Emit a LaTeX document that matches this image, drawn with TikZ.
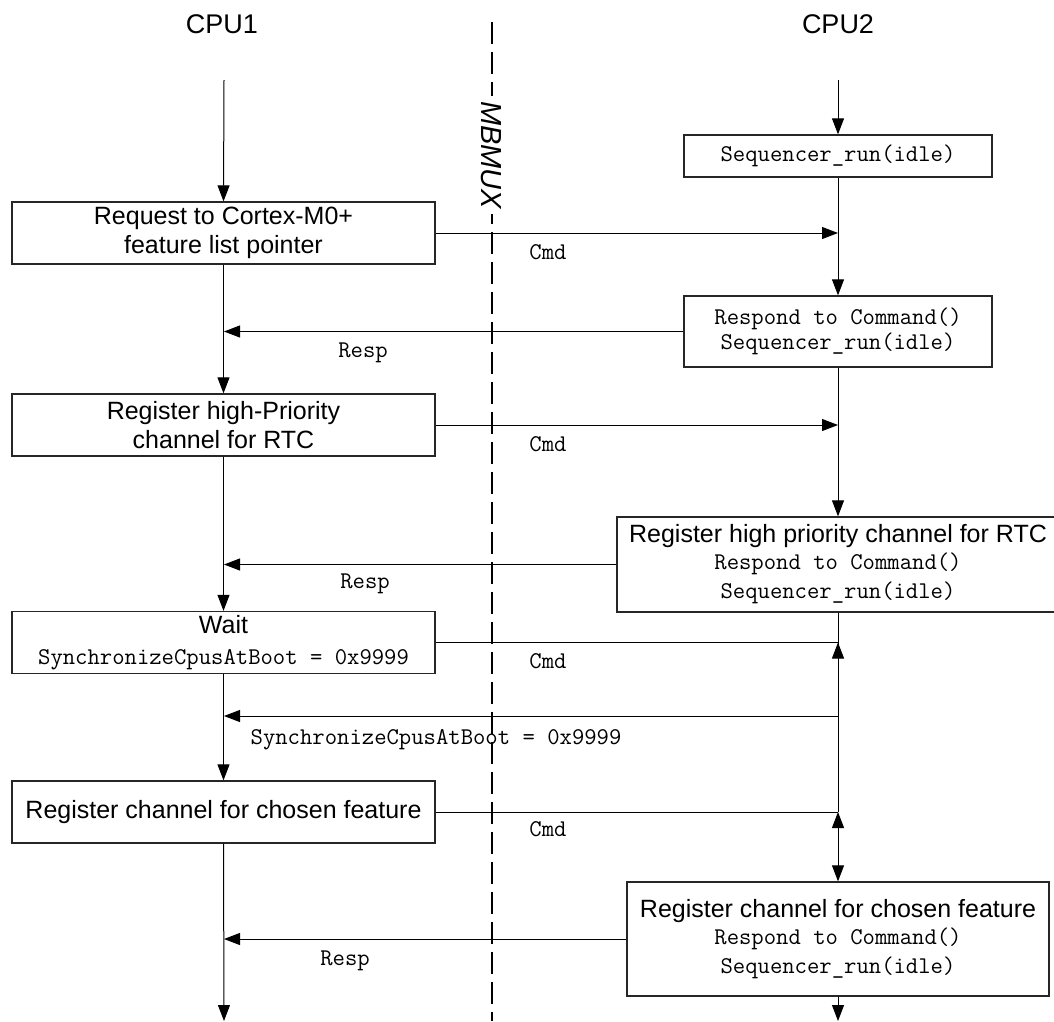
\documentclass[tikz,border=0pt]{standalone}
\usepackage{fontspec}
\usepackage{tikz}
\usetikzlibrary{arrows.meta,calc}
\newfontfamily\lsans{Liberation Sans}
\newcommand{\boxfont}{\lsans\fontsize{25}{29}\selectfont}
\newcommand{\codefont}{\ttfamily\fontsize{24}{25}\selectfont}
\newcommand{\titlefont}{\lsans\fontsize{27}{30}\selectfont}

\begin{document}
\begin{tikzpicture}[x=1pt,y=-1pt,>={Triangle[length=16pt,width=12pt]},line width=1pt,
 cpubox/.style={draw=black!85,line width=1.3pt,inner sep=0pt,align=center,font=\boxfont},
 leftbox/.style={cpubox,minimum width=423pt,minimum height=62pt},
 msglabel/.style={anchor=base,inner sep=0pt,font=\codefont},
 lanetitle/.style={anchor=base,inner sep=0pt,font=\titlefont},
 muxline/.style={line width=2.8pt,dash pattern=on 22pt off 8pt}]
\useasboundingbox (0,0) rectangle (1054,1021);
\node[lanetitle] (cpu1) at (222,33) {CPU1};
\node[lanetitle] (cpu2) at (838,33) {CPU2};
\coordinate (c1top) at (224,80);
\coordinate (c2top) at (838,80);
\coordinate (c1end) at (224,1021);
\coordinate (c2end) at (838,1021);
\coordinate (muxtop) at (492,22);
\coordinate (muxend) at (492,1021);
\draw[muxline] (muxtop)--(muxend);
\node[rotate=-90,fill=white,inner sep=5pt,font=\lsans\itshape\fontsize{29}{30}\selectfont] (mux) at (491,155) {MBMUX};
% CPU1 side
\node[leftbox] (req) at (223.5,233) {Request to Cortex-M0+\\feature list pointer};
\node[leftbox] (hprio) at (223.5,425) {Register high-Priority\\channel for RTC};
\node[leftbox] (wait) at (223.5,642.5) {Wait\\[2pt]{\codefont SynchronizeCpusAtBoot = 0x9999}};
\node[leftbox] (chan) at (223.5,812) {Register channel for chosen feature};
% CPU2 side
\node[cpubox,minimum width=308pt,minimum height=42pt,font=\codefont] (seq) at (838,156) {Sequencer\_run(idle)};
\node[cpubox,minimum width=308pt,minimum height=71pt,font=\codefont] (resp1) at (838,331.5) {Respond to Command()\\Sequencer\_run(idle)};
\node[cpubox,minimum width=442pt,minimum height=95pt] (resp2) at (838,564.5) {Register high priority channel for RTC\\[-2pt]{\codefont Respond to Command()}\\{\codefont Sequencer\_run(idle)}};
\node[cpubox,minimum width=422pt,minimum height=114pt] (resp3) at (838,939) {Register channel for chosen feature\\[-2pt]{\codefont Respond to Command()}\\{\codefont Sequencer\_run(idle)}};
\coordinate (sync) at (838,716);
% lifelines
\draw[->] (c1top)--(req.north);
\draw[->] (req.south)--(hprio.north);
\draw[->] (hprio.south)--(wait.north);
\draw[->] (wait.south)--(chan.north);
\draw[->] (chan.south)--(c1end);
\draw[->] (c2top)--(seq.north);
\draw[->] (seq.south)--(resp1.north);
\draw[->] (resp1.south)--(resp2.north);
\draw (resp2.south)--(sync);
\draw[->] (sync)--(wait.east -| sync);
\draw (sync)--(chan.east -| sync);
\draw[<->] (chan.east -| sync)--(resp3.north);
\draw[->] (resp3.south)--(c2end);
% messages
\draw[->] (req.east)--(req.east -| c2top);
\draw[->] (resp1.west)--(resp1.west -| c1top);
\draw[->] (hprio.east)--(hprio.east -| c2top);
\draw[->] (resp2.west)--(resp2.west -| c1top);
\draw (wait.east)--(wait.east -| sync);
\draw[->] (sync)--(sync -| c1top);
\draw (chan.east)--(chan.east -| sync);
\draw[->] (resp3.west)--(resp3.west -| c1top);
\node[msglabel] (cmd1) at (548,259) {Cmd};
\node[msglabel] (rsp1) at (363,357) {Resp};
\node[msglabel] (cmd2) at (548,451) {Cmd};
\node[msglabel] (rsp2) at (365,588) {Resp};
\node[msglabel] (cmd3) at (548,668) {Cmd};
\node[msglabel] (synclbl) at (436,744) {SynchronizeCpusAtBoot = 0x9999};
\node[msglabel] (cmd4) at (548,836) {Cmd};
\node[msglabel] (rsp3) at (345,965) {Resp};
\end{tikzpicture}
\end{document}
